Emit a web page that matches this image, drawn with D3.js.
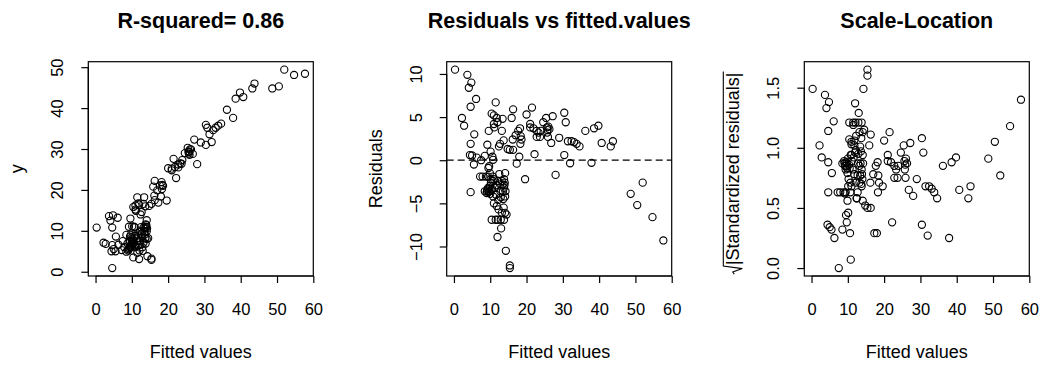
<!DOCTYPE html>
<html>
<head>
<meta charset="utf-8">
<script src="https://cdn.jsdelivr.net/npm/d3@7"></script>
<style>
  html, body { margin: 0; padding: 0; background: #fff; }
  svg { display: block; font-family: "Liberation Sans", Arial, sans-serif; }
</style>
</head>
<body>
<svg id="chart" width="1041" height="365"></svg>
<script>
// Linear model diagnostics: observed vs fitted, residuals vs fitted, scale-location.
const fitted = [
  0.3, 2.2, 2.8, 3.7, 4.1, 4.8, 4.6, 6.1, 5.6, 4.6, 4.4, 5.5, 6.3, 4.6, 7.5, 8.5, 9.2, 9.7, 10.6, 9.6,
  11.5, 10.4, 11.0, 11.0, 11.1, 11.8, 13.4, 12.7, 12.4, 13.2, 13.7, 14.8, 15.4, 16.3, 16.3, 15.9, 16.2, 17.0, 17.7, 18.2,
  18.4, 18.3, 18.0, 17.3, 19.6, 20.0, 21.5, 21.0, 21.0, 21.9, 22.2, 22.8, 23.3, 23.9, 22.8, 23.7, 24.6, 25.4, 25.6, 25.7,
  26.3, 25.9, 26.8, 27.2, 28.0, 29.0, 30.4, 30.8, 30.4, 31.4, 32.0, 32.4, 33.1, 33.8, 34.6, 36.2, 37.9, 38.6, 39.8, 40.7,
  43.2, 43.8, 48.7, 50.5, 52.0, 54.7, 57.7,
  7.2, 7.9, 8.8, 9.4, 8.5, 9.0, 9.2, 9.7, 9.9, 10.2, 10.7, 11.0, 10.7, 11.3, 10.8, 10.4, 11.5, 12.1, 11.0, 11.8,
  12.3, 12.0, 12.9, 13.0, 13.2, 13.7, 13.8, 14.1, 14.5, 13.8, 13.4, 13.2, 13.8, 12.5, 12.2, 12.7, 14.1, 14.1, 14.3, 15.4,
  15.4, 11.6, 12.2, 9.5, 9.9, 9.4, 10.0, 10.5, 11.8, 12.8, 13.6, 14.2, 14.0, 12.0, 10.1, 10.8, 5.0,
  9.6, 9.8, 10.3, 9.1, 10.1, 13.5, 13.9, 12.9, 25.8, 26.0, 18.6
];
const observed = [
  10.8, 7.1, 6.8, 13.6, 12.5, 13.8, 10.8, 13.2, 8.6, 6.5, 5.0, 5.0, 6.6, 0.9, 7.5, 9.0, 11.0, 9.0, 11.0, 13.0,
  18.2, 15.8, 16.2, 15.2, 14.9, 16.7, 18.2, 14.6, 14.0, 16.6, 16.0, 16.1, 16.6, 17.5, 22.2, 20.8, 18.6, 19.9, 21.1, 21.9,
  21.2, 20.2, 18.4, 16.9, 17.4, 25.3, 27.6, 25.2, 24.8, 25.6, 22.9, 26.2, 26.5, 27.3, 25.5, 26.4, 29.0, 30.3, 29.4, 28.9,
  29.9, 28.6, 28.8, 32.3, 26.3, 31.6, 35.9, 35.2, 31.0, 33.6, 31.7, 34.6, 35.2, 35.7, 36.2, 39.6, 37.6, 42.3, 43.8, 42.7,
  44.8, 46.0, 44.8, 45.3, 49.4, 48.1, 48.4,
  5.3, 6.0, 6.9, 7.5, 4.9, 5.2, 5.8, 6.1, 6.9, 7.6, 8.3, 8.8, 8.8, 8.1, 6.6, 3.5, 4.6, 5.2, 6.0, 6.5,
  6.6, 3.1, 6.0, 5.1, 7.1, 8.2, 6.9, 8.0, 8.2, 10.6, 10.6, 10.8, 11.6, 10.9, 9.8, 9.9, 12.6, 9.9, 3.8, 3.2,
  2.9, 7.6, 7.6, 8.6, 8.4, 6.2, 6.1, 7.2, 8.9, 9.2, 9.1, 10.6, 11.4, 16.4, 11.1, 10.85, 5.55,
  5.9, 6.5, 6.8, 5.5, 7.9, 9.9, 11.0, 8.6, 29.3, 29.9, 21.0
];
const residuals = [
  10.5, 4.9, 4.0, 9.9, 8.4, 9.0, 6.2, 7.1, 3.0, 1.9, 0.6, -0.5, 0.3, -3.7, 0.0, 0.5, 1.8, -0.7, 0.4, 3.4,
  6.7, 5.4, 5.2, 4.2, 3.8, 4.9, 4.8, 1.9, 1.6, 3.4, 2.3, 1.3, 1.2, 1.2, 5.9, 4.9, 2.4, 2.9, 3.4, 3.7,
  2.8, 1.9, 0.4, -0.4, -2.2, 5.3, 6.1, 4.2, 3.8, 3.7, 0.7, 3.4, 3.2, 3.4, 2.7, 2.7, 4.4, 4.9, 3.8, 3.2,
  3.6, 2.7, 2.0, 5.1, -1.7, 2.6, 5.5, 4.4, 0.6, 2.2, -0.35, 2.2, 2.1, 1.9, 1.6, 3.4, -0.3, 3.7, 4.0, 2.0,
  1.6, 2.2, -3.9, -5.2, -2.6, -6.6, -9.3,
  -1.9, -1.9, -1.9, -1.9, -3.6, -3.8, -3.4, -3.6, -3.0, -2.6, -2.4, -2.2, -1.9, -3.2, -4.2, -6.9, -6.9, -6.9, -5.0, -5.3,
  -5.7, -8.9, -6.9, -7.9, -6.1, -5.5, -6.9, -6.1, -6.3, -3.2, -2.8, -2.4, -2.2, -1.6, -2.4, -2.8, -1.5, -4.2, -10.5, -12.2,
  -12.5, -4.0, -4.6, -0.9, -1.5, -3.2, -3.9, -3.3, -2.9, -3.6, -4.5, -3.6, -2.6, 4.4, 1.0, 0.05, 0.55,
  -3.7, -3.3, -3.5, -3.6, -2.2, -3.6, -2.9, -4.3, 3.5, 3.9, 2.4
];
const sqrtStdResid = [
  1.49, 1.02, 0.92, 1.44, 1.33, 1.38, 1.14, 1.22, 0.79, 0.63, 0.36, 0.32, 0.25, 0.88, 0.0, 0.32, 0.62, 0.38, 0.29, 0.85,
  1.19, 1.07, 1.05, 0.94, 0.89, 1.02, 1.01, 0.63, 0.58, 0.85, 0.70, 0.52, 0.50, 0.50, 1.11, 1.02, 0.71, 0.78, 0.85, 0.88,
  0.77, 0.63, 0.29, 0.29, 0.68, 1.06, 1.13, 0.94, 0.89, 0.88, 0.38, 0.85, 0.82, 0.85, 0.75, 0.75, 0.96, 1.02, 0.89, 0.82,
  0.87, 0.75, 0.65, 1.04, 0.60, 0.74, 1.08, 0.96, 0.36, 0.68, 0.27, 0.68, 0.66, 0.63, 0.58, 0.85, 0.25, 0.88, 0.92, 0.65,
  0.58, 0.68, 0.91, 1.05, 0.77, 1.18, 1.40,
  0.63, 0.63, 0.63, 0.63, 0.87, 0.89, 0.85, 0.87, 0.79, 0.74, 0.71, 0.68, 0.63, 0.82, 0.94, 1.21, 1.21, 1.21, 1.03, 1.06,
  1.10, 1.37, 1.21, 1.29, 1.13, 1.08, 1.21, 1.13, 1.15, 0.82, 0.77, 0.71, 0.68, 0.58, 0.71, 0.77, 0.56, 0.94, 1.49, 1.60,
  1.65, 0.92, 0.98, 0.44, 0.56, 0.82, 0.91, 0.83, 0.78, 0.87, 0.97, 0.87, 0.74, 0.96, 0.46, 0.07, 0.34,
  0.88, 0.83, 0.86, 0.87, 0.68, 0.87, 0.78, 0.95, 0.86, 0.91, 0.71
];

const xTicks = [0, 10, 20, 30, 40, 50, 60];
const yTicksFit = [0, 10, 20, 30, 40, 50];
const yTicksResid = [-10, -5, 0, 5, 10];
const yTicksScale = [0, 0.5, 1, 1.5];

const titles = ["R-squared= 0.86", "Residuals vs fitted.values", "Scale-Location"];
const xLabel = "Fitted values";
const yLabels = ["y", "Residuals", "|Standardized residuals|"];

const panels = [
  { title: titles[0], ys: observed, yTicks: yTicksFit, fmt: d3.format("d"), ylab: yLabels[0], left: 88.3 },
  { title: titles[1], ys: residuals, yTicks: yTicksResid, fmt: d3.format("d"), ylab: yLabels[1], left: 446.7, zeroLine: true },
  { title: titles[2], ys: sqrtStdResid, yTicks: yTicksScale, fmt: d3.format(".1f"), ylab: yLabels[2], left: 804.3, radical: true }
];

const plotW = 225, plotTop = 61.7, plotBottom = 276;
const svg = d3.select("#chart");

// R-style axis range: data extent padded by 4% on each side
function padded(vals) {
  const [a, b] = d3.extent(vals);
  const e = (b - a) * 0.04;
  return [a - e, b + e];
}

const labelFont = 18, tickFont = 16.5, titleFont = 21.5;

panels.forEach(p => {
  const x = d3.scaleLinear().domain(padded(fitted)).range([p.left, p.left + plotW]);
  const y = d3.scaleLinear().domain(padded(p.ys)).range([plotBottom, plotTop]);
  const g = svg.append("g");

  // title
  g.append("text")
    .attr("x", p.left + plotW / 2).attr("y", 28)
    .attr("text-anchor", "middle")
    .attr("font-weight", "bold").attr("font-size", titleFont)
    .attr("fill", "#000")
    .text(p.title);

  // x axis
  const ax = g.append("g").attr("transform", `translate(0,${plotBottom})`)
    .call(d3.axisBottom(x).tickValues(xTicks).tickSize(7).tickSizeOuter(0).tickPadding(20).tickFormat(d3.format("d")));
  ax.select(".domain").attr("d", `M${x(xTicks[0])},0H${x(xTicks[xTicks.length - 1])}`)
    .attr("stroke", "#000").attr("stroke-width", 1.2);
  ax.selectAll("line").attr("stroke", "#000").attr("stroke-width", 1.2);
  ax.selectAll("text").attr("font-size", tickFont).attr("fill", "#000")
    .attr("font-family", "Liberation Sans, Arial, sans-serif");

  // y axis with labels parallel to the axis
  const ay = g.append("g").attr("transform", `translate(${p.left},0)`)
    .call(d3.axisLeft(y).tickValues(p.yTicks).tickSize(7).tickSizeOuter(0).tickFormat(p.fmt));
  ay.select(".domain").attr("d", `M0,${y(p.yTicks[0])}V${y(p.yTicks[p.yTicks.length - 1])}`)
    .attr("stroke", "#000").attr("stroke-width", 1.2);
  ay.selectAll("line").attr("stroke", "#000").attr("stroke-width", 1.2);
  ay.selectAll("text")
    .attr("transform", "rotate(-90)")
    .attr("x", 0).attr("y", -25).attr("dy", 0)
    .attr("text-anchor", "middle")
    .attr("font-size", tickFont).attr("fill", "#000")
    .attr("font-family", "Liberation Sans, Arial, sans-serif");

  // plot box
  g.append("rect")
    .attr("x", p.left).attr("y", plotTop).attr("width", plotW).attr("height", plotBottom - plotTop)
    .attr("fill", "none").attr("stroke", "#000").attr("stroke-width", 1.2);

  // reference line at zero
  if (p.zeroLine) {
    g.append("line")
      .attr("x1", p.left).attr("x2", p.left + plotW)
      .attr("y1", y(0)).attr("y2", y(0))
      .attr("stroke", "#000").attr("stroke-width", 1.2).attr("stroke-dasharray", "7,4");
  }

  // points
  g.append("g").selectAll("circle")
    .data(fitted.map((f, i) => [f, p.ys[i]]))
    .join("circle")
    .attr("cx", d => x(d[0])).attr("cy", d => y(d[1]))
    .attr("r", 3.6)
    .attr("fill", "none").attr("stroke", "#000").attr("stroke-width", 1.1);

  // x label
  g.append("text")
    .attr("x", p.left + plotW / 2).attr("y", 358)
    .attr("text-anchor", "middle").attr("font-size", labelFont).attr("fill", "#000")
    .text(xLabel);

  // y label
  const cy = (plotTop + plotBottom) / 2;
  const yl = g.append("g").attr("transform", `translate(${p.left - 65},${cy}) rotate(-90)`);
  const t = yl.append("text")
    .attr("x", 0).attr("y", 0)
    .attr("text-anchor", "middle").attr("font-size", labelFont).attr("fill", "#000")
    .text(p.ylab);
  if (p.radical) {
    const w = t.node().getComputedTextLength();
    const xs = -w / 2, xe = w / 2;
    yl.append("path")
      .attr("d", `M${xs - 9},-5 L${xs - 7},-6.5 L${xs - 3.5},3 L${xs - 1},-16 L${xe + 1},-16`)
      .attr("fill", "none").attr("stroke", "#000").attr("stroke-width", 1.1);
  }
});
</script>
</body>
</html>
